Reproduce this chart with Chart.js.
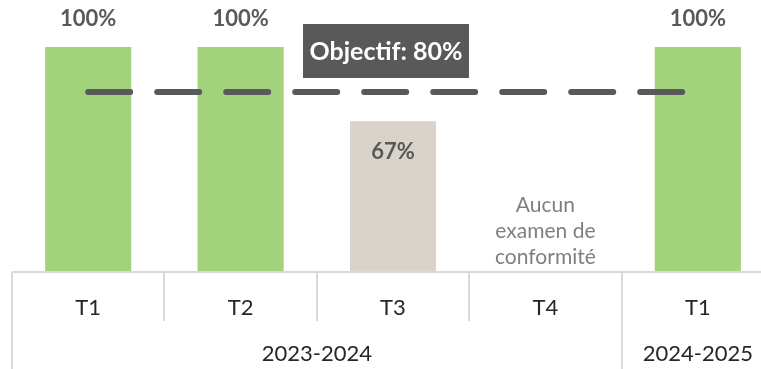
<!DOCTYPE html>
<html lang="fr">
<head>
<meta charset="utf-8">
<title>Examens de conformité</title>
<script src="https://cdn.jsdelivr.net/npm/chart.js@4/dist/chart.umd.min.js"></script>
<style>
  html, body { margin: 0; padding: 0; background: #fff; overflow: hidden; }
  #wrap { position: relative; width: 780px; height: 369px; }
</style>
</head>
<body>
<div id="wrap"><canvas id="conformite"></canvas></div>
<script>
// ──── Données ───────────────────────────────────────────────
const quarters = ["T1", "T2", "T3", "T4", "T1"];
const years = ["2023-2024", "2024-2025"];
const yearSpans = [4, 1];
const rates = [100, 100, 67, null, 100];
const target = [80, 80, 80, 80, 80];
const targetLabel = "Objectif: 80%";
const noteIndex = 3;
const noteLines = ["Aucun", "examen de", "conformité"];

const FONT = "Lato, 'Noto Sans', sans-serif";
const GREEN = "#a2d27c";
const BEIGE = "#d9d3ca";
const DARK = "#595959";
const RULE = "#d9d9d9";

const barColors = rates.map((v) => (v !== null && v < 80 ? BEIGE : GREEN));

// ──── Étiquettes de valeur + note T4 + encadré objectif ─────
const labelsPlugin = {
  id: "labelsPlugin",
  afterDatasetsDraw(chart) {
    const { ctx, scales: { x, y }, chartArea } = chart;
    const meta = chart.getDatasetMeta(1); // barres
    ctx.save();
    ctx.textAlign = "center";
    ctx.textBaseline = "middle";

    ctx.font = `bold 22px ${FONT}`;
    ctx.fillStyle = DARK;
    meta.data.forEach((bar, i) => {
      const v = rates[i];
      if (v === null) return;
      const ty = v >= 90 ? bar.y - 28 : bar.y + 31;
      ctx.fillText(`${v}%`, bar.x, ty);
    });

    ctx.font = `21px ${FONT}`;
    ctx.fillStyle = "#7f7f7f";
    const nx = x.getPixelForValue(noteIndex);
    noteLines.forEach((line, i) => {
      ctx.fillText(line, nx, chartArea.bottom - 15 - (noteLines.length - 1 - i) * 26);
    });

    const by = y.getPixelForValue(target[0]);
    const cx = x.getPixelForValue(2) - 7;
    const bw = 166, bh = 54;
    ctx.fillStyle = DARK;
    ctx.fillRect(cx - bw / 2, by - 68, bw, bh);
    ctx.font = `bold 25px ${FONT}`;
    ctx.fillStyle = "#ffffff";
    ctx.fillText(targetLabel, cx, by - 68 + bh / 2 + 1);
    ctx.restore();
  },
};

// ──── Lignes du tableau sous l'axe + années ─────────────────
const tablePlugin = {
  id: "tablePlugin",
  afterDraw(chart) {
    const { ctx, chartArea, height } = chart;
    const step = (chartArea.right - chartArea.left) / quarters.length;
    const groupStarts = [0];
    yearSpans.forEach((n, i) => groupStarts.push(groupStarts[i] + n));

    ctx.save();
    ctx.strokeStyle = RULE;
    ctx.lineWidth = 2;
    ctx.beginPath();
    ctx.moveTo(chartArea.left, chartArea.bottom);
    ctx.lineTo(chartArea.right, chartArea.bottom);
    for (let i = 0; i <= quarters.length; i++) {
      const bx = Math.round(chartArea.left + i * step);
      const full = groupStarts.includes(i);
      ctx.moveTo(bx, chartArea.bottom);
      ctx.lineTo(bx, full ? height : chartArea.bottom + 49);
    }
    ctx.stroke();

    ctx.font = `22px ${FONT}`;
    ctx.fillStyle = "#262626";
    ctx.textAlign = "center";
    ctx.textBaseline = "middle";
    years.forEach((label, g) => {
      const x0 = chartArea.left + groupStarts[g] * step;
      const x1 = chartArea.left + groupStarts[g + 1] * step;
      ctx.fillText(label, (x0 + x1) / 2, chartArea.bottom + 82);
    });
    ctx.restore();
  },
};

new Chart(document.getElementById("conformite").getContext("2d"), {
  data: {
    labels: quarters,
    datasets: [
      {
        type: "line",
        data: target,
        borderColor: DARK,
        borderWidth: 6,
        borderDash: [42, 27],
        borderCapStyle: "round",
        pointRadius: 0,
        order: 0,
      },
      {
        type: "bar",
        data: rates,
        backgroundColor: barColors,
        barPercentage: 0.565,
        categoryPercentage: 1,
        order: 1,
      },
    ],
  },
  options: {
    responsive: true,
    maintainAspectRatio: false,
    animation: false,
    layout: { padding: { top: 47, left: 12, right: 6, bottom: 0 } },
    plugins: { legend: { display: false }, tooltip: { enabled: false } },
    scales: {
      x: {
        offset: true,
        grid: { display: false },
        border: { display: false },
        ticks: {
          padding: 15,
          color: "#262626",
          font: { family: FONT, size: 22 },
          maxRotation: 0,
        },
        afterFit(scale) { scale.height = 97; },
      },
      y: { display: false, min: 0, max: 100 },
    },
  },
  plugins: [labelsPlugin, tablePlugin],
});
</script>
</body>
</html>
